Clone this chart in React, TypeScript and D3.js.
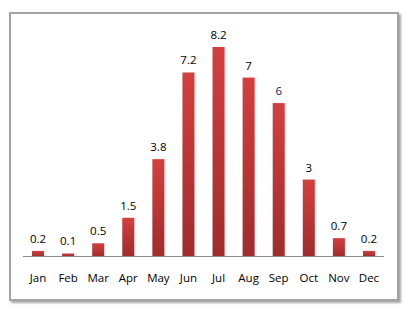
import React from "react";
import * as d3 from "d3";

const months = ["Jan", "Feb", "Mar", "Apr", "May", "Jun", "Jul", "Aug", "Sep", "Oct", "Nov", "Dec"];
const values = [0.2, 0.1, 0.5, 1.5, 3.8, 7.2, 8.2, 7, 6, 3, 0.7, 0.2];
const labelColors = ["#000", "#000", "#000", "#000", "#000", "#000", "#000", "#000", "#14206a", "#000", "#000", "#000"];

export default function App() {
  const W = 405, H = 310;
  const x0 = 23, x1 = 384, baseY = 256;
  const x = d3.scaleBand().domain(months).range([x0, x1]).paddingInner(0.6).paddingOuter(0.3);
  const y = d3.scaleLinear().domain([0, 8.2]).range([baseY, 47]);
  const font = "'Open Sans', 'DejaVu Sans', sans-serif";
  return (
    <svg width={W} height={H} style={{ position: "absolute", left: 0, top: 0 }}>
      <defs>
        <linearGradient id="barg" x1="0" y1="0" x2="0" y2="1">
          <stop offset="0" stopColor="#d43f3f" />
          <stop offset="1" stopColor="#a02c2c" />
        </linearGradient>
        <filter id="sh" x="-10%" y="-10%" width="130%" height="130%">
          <feDropShadow dx="2" dy="2" stdDeviation="1.2" floodColor="#000" floodOpacity="0.35" />
        </filter>
      </defs>
      <rect x={0} y={0} width={W} height={H} fill="#fff" />
      <rect x={10} y={13} width={388} height={287} fill="#fff" stroke="#a3a3a3" strokeWidth={2} filter="url(#sh)" />
      <line x1={x0} x2={x1} y1={baseY + 0.5} y2={baseY + 0.5} stroke="#8c8c8c" strokeWidth={1} />
      {months.map((m, i) => {
        const bx = x(m)!;
        const bw = x.bandwidth();
        const top = y(values[i]);
        return (
          <g key={m}>
            <rect x={bx} y={top} width={bw} height={baseY - top} fill="url(#barg)" />
            <text x={bx + bw / 2} y={top - 8} textAnchor="middle" fontSize={11.5} fontFamily={font} fill={labelColors[i]}>
              {values[i]}
            </text>
            <text x={bx + bw / 2} y={282} textAnchor="middle" fontSize={11.5} fontFamily={font} fill="#000">
              {m}
            </text>
          </g>
        );
      })}
    </svg>
  );
}
